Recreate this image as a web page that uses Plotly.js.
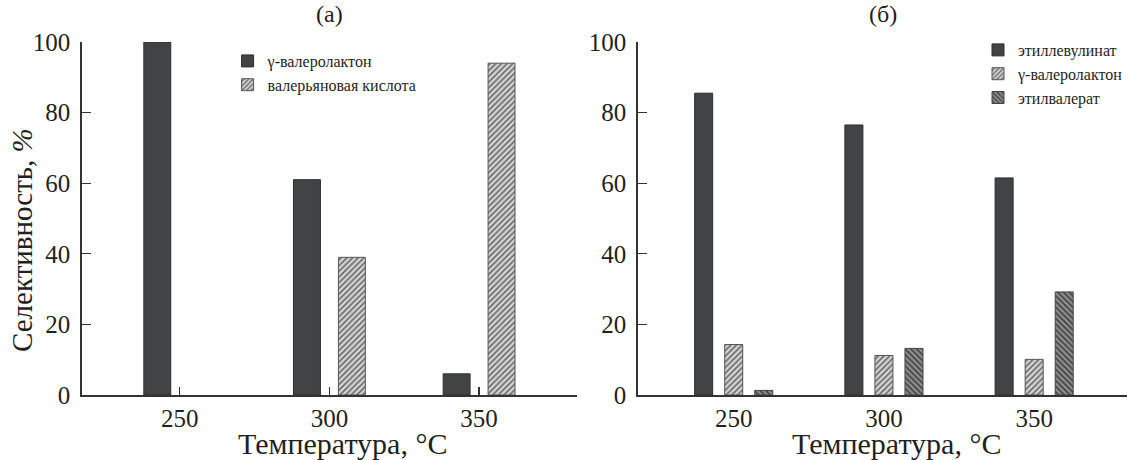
<!DOCTYPE html>
<html>
<head>
<meta charset="utf-8">
<script src="https://cdn.plot.ly/plotly-3.0.1.min.js"></script>
<style>html,body{margin:0;padding:0;background:#fff;}#chart{width:1129px;height:460px;}</style>
</head>
<body>
<div id="chart"></div>
<script>
// Temperatures (°C)
const temps = [250, 300, 350];
// Panel (а)
const namesA = ["γ-валеролактон", "валерьяновая кислота"];
const gvlA = [100, 61, 6];
const valericA = [null, 39, 94];   // no bar drawn at 250 °C
// Panel (б)
const namesB = ["этиллевулинат", "γ-валеролактон", "этилвалерат"];
const ethylLevB = [85.5, 76.5, 61.5];
const gvlB = [14.3, 11.2, 10.1];
const ethylValB = [1.3, 13.2, 29.2];
const tickVals = [250, 300, 350];
const tickText = ["250", "300", "350"];
const yTicks = [0, 20, 40, 60, 80, 100];

const FONT = "Liberation Serif";
const INK = "#231f20";
const OUTLINE = "#2e2e2e";

const darkMarker = {color: "#424345", line: {color: OUTLINE, width: 1}};
const hatchLight = {color: "#cfcfcf", line: {color: "#555", width: 1},
  pattern: {shape: "/", bgcolor: "#d2d2d2", fgcolor: "#5a5a5a", size: 4, solidity: 0.35}};
const hatchDark = {color: "#808080", line: {color: "#444", width: 1},
  pattern: {shape: "\\", bgcolor: "#8c8c8c", fgcolor: "#363636", size: 4, solidity: 0.35}};

const traces = [
  {type: "bar", x: temps, y: gvlA, name: namesA[0], xaxis: "x", yaxis: "y", marker: darkMarker, legend: "legend"},
  {type: "bar", x: temps, y: valericA, name: namesA[1], xaxis: "x", yaxis: "y", marker: hatchLight, legend: "legend"},
  {type: "bar", x: temps, y: ethylLevB, name: namesB[0], xaxis: "x2", yaxis: "y2", marker: darkMarker, legend: "legend2"},
  {type: "bar", x: temps, y: gvlB, name: namesB[1], xaxis: "x2", yaxis: "y2", marker: hatchLight, legend: "legend2"},
  {type: "bar", x: temps, y: ethylValB, name: namesB[2], xaxis: "x2", yaxis: "y2", marker: hatchDark, legend: "legend2"}
];

const xCommon = {
  tickvals: tickVals, ticktext: tickText, ticks: "inside", ticklen: 8, tickwidth: 1.2, tickcolor: "#333",
  showline: true, linecolor: "#333", linewidth: 1.5, showgrid: false, zeroline: false, layer: "below traces",
  tickfont: {family: FONT, size: 25, color: INK}, ticklabelstandoff: 0, fixedrange: true
};
const yCommon = {
  range: [0, 100], tickvals: yTicks, ticks: "inside", ticklen: 9, tickwidth: 1.2, tickcolor: "#333",
  showline: true, linecolor: "#333", linewidth: 1.5, showgrid: false, zeroline: false, layer: "below traces",
  tickfont: {family: FONT, size: 25, color: INK}, ticklabelstandoff: 5, fixedrange: true
};
const yDom = [65/460, 1 - 42/460];

const legendCommon = {font: {family: FONT, size: 16, color: INK}, bgcolor: "rgba(0,0,0,0)",
  xanchor: "left", yanchor: "top", tracegroupgap: 0, itemwidth: 30, traceorder: "normal"};

const layout = {
  width: 1129, height: 460,
  margin: {l: 0, r: 0, t: 0, b: 0},
  font: {family: FONT, color: INK, size: 16},
  paper_bgcolor: "#fff", plot_bgcolor: "#fff",
  barmode: "group", bargap: 0.4, bargroupgap: 0.4,
  showlegend: true,
  xaxis: Object.assign({}, xCommon, {domain: [82/1129, 578/1129], range: [217.3, 382.7], anchor: "y"}),
  yaxis: Object.assign({}, yCommon, {domain: yDom, anchor: "x"}),
  xaxis2: Object.assign({}, xCommon, {domain: [639/1129, 1], range: [218.1, 380.9], anchor: "y2"}),
  yaxis2: Object.assign({}, yCommon, {domain: yDom, anchor: "x2"}),
  legend: Object.assign({}, legendCommon, {x: 228/1129, y: 1 - 44/460}),
  legend2: Object.assign({}, legendCommon, {x: 980/1129, y: 1 - 33/460}),
  annotations: [
    {text: "(а)", xref: "paper", yref: "paper", x: 330/1129, y: 1 - 14/460, showarrow: false,
     xanchor: "center", yanchor: "middle", font: {family: FONT, size: 24, color: INK}},
    {text: "(б)", xref: "paper", yref: "paper", x: 885/1129, y: 1 - 14/460, showarrow: false,
     xanchor: "center", yanchor: "middle", font: {family: FONT, size: 24, color: INK}},
    {text: "Температура, °C", xref: "paper", yref: "paper", x: 343/1129, y: 1 - 443/460, showarrow: false,
     xanchor: "center", yanchor: "middle", font: {family: FONT, size: 30, color: INK}},
    {text: "Температура, °C", xref: "paper", yref: "paper", x: 898/1129, y: 1 - 443/460, showarrow: false,
     xanchor: "center", yanchor: "middle", font: {family: FONT, size: 30, color: INK}},
    {text: "Селективность, <i>%</i>", xref: "paper", yref: "paper", x: 22/1129, y: 1 - 240/460, showarrow: false,
     textangle: -90, xanchor: "center", yanchor: "middle", font: {family: FONT, size: 29, color: INK}}
  ]
};

Plotly.newPlot("chart", traces, layout, {displayModeBar: false, staticPlot: true});
</script>
</body>
</html>
